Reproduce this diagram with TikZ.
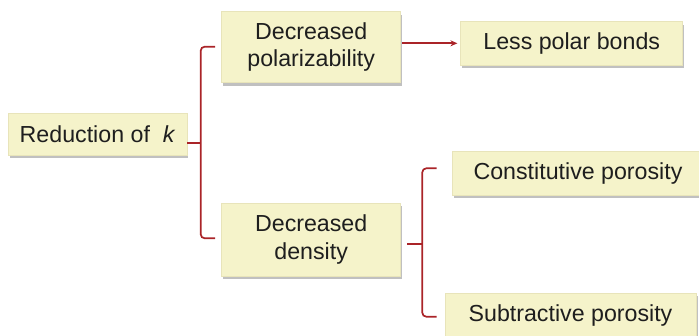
\documentclass[tikz,border=0pt]{standalone}
\usepackage{fontspec}
\setmainfont{Liberation Sans}
\usetikzlibrary{arrows.meta,shadows}
\definecolor{boxfill}{RGB}{245,243,202}
\definecolor{boxline}{RGB}{232,228,186}
\definecolor{brred}{RGB}{170,36,40}
\definecolor{txt}{RGB}{30,30,30}
\begin{document}
\begin{tikzpicture}[x=1pt,y=-1pt,
  box/.style={draw=boxline, line width=0.6pt, fill=boxfill, inner sep=0pt, align=center,
    text=txt, font=\fontsize{23.2}{27.5}\selectfont,
    drop shadow={shadow xshift=1.5pt, shadow yshift=-3pt, fill=black!45, opacity=0.55}},
  br/.style={draw=brred, line width=1.7pt, rounded corners=4pt},
  arr/.style={draw=brred, line width=1.7pt, -{Stealth[length=7pt,width=6pt]}}]
\useasboundingbox (0,0) rectangle (699,335);
\node[box, minimum width=178.7pt, minimum height=41.7pt] (red) at (97.6,134.2) {Reduction of \ \textit{k}};
\node[box, minimum width=179pt, minimum height=71pt] (pol) at (311.2,47.2) {Decreased\\polarizability};
\node[box, minimum width=222pt, minimum height=43.3pt] (less) at (571.7,43.3) {Less polar bonds};
\node[box, minimum width=179pt, minimum height=72.7pt] (den) at (311.2,239.7) {Decreased\\density};
\node[box, minimum width=252pt, minimum height=43.3pt] (con) at (578,173.3) {Constitutive porosity};
\node[box, minimum width=251pt, minimum height=43.3pt] (sub) at (570.5,315) {Subtractive porosity};
% bracket 1
\coordinate (b1) at (200.7,143.3);
\coordinate (b1t) at (215,46.7);
\coordinate (b1b) at (215,238.3);
\draw[br] (red.east |- b1) -- (b1);
\draw[br] (b1t) -| (b1) |- (b1b);
% bracket 2
\coordinate (b2) at (422.3,244.3);
\coordinate (b2t) at (436.7,168.3);
\coordinate (b2b) at (436.7,316.7);
\draw[br] ([xshift=6pt]den.east |- b2) -- (b2);
\draw[br] (b2t) -| (b2) |- (b2b);
% arrow
\draw[arr, shorten <=1pt, shorten >=3pt] (pol.east |- less.west) -- (less.west);
\end{tikzpicture}
\end{document}
